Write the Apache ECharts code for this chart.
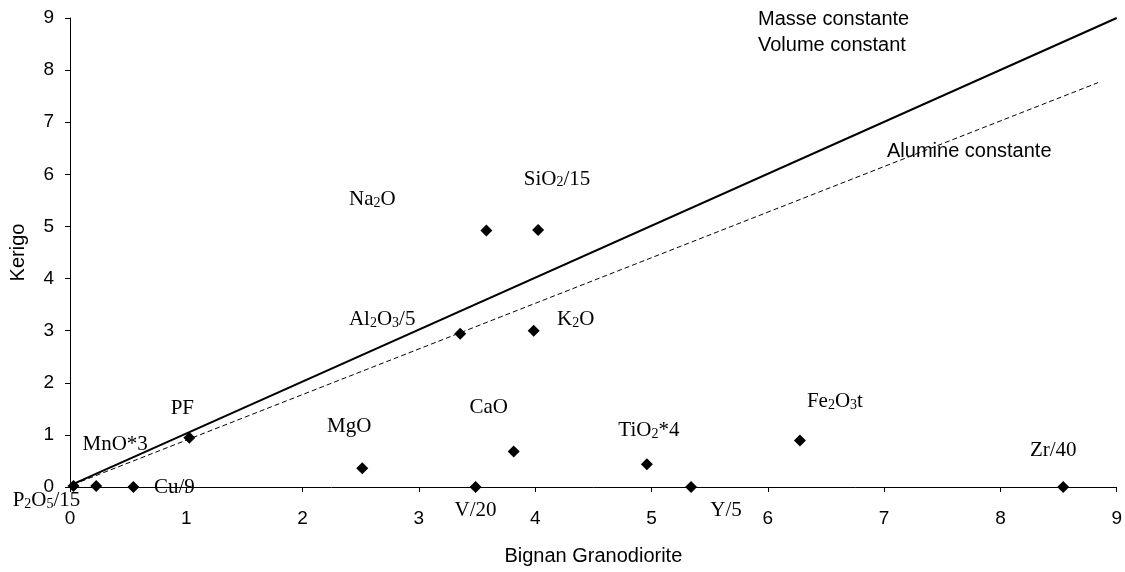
<!DOCTYPE html>
<html>
<head>
<meta charset="utf-8">
<script src="https://cdn.jsdelivr.net/npm/echarts@6/dist/echarts.min.js"></script>
<style>
  html, body { margin: 0; padding: 0; background: #fff; }
  #chart { width: 1125px; height: 572px; }
</style>
</head>
<body>
<div id="chart"></div>
<script>
// oxides, Bignan granodiorite (x) vs Kerigo (y)
var names = ['P{s|2}O{s|5}/15', 'MnO*3', 'Cu/9', 'PF', 'MgO', 'Al{s|2}O{s|3}/5', 'Na{s|2}O',
    'SiO{s|2}/15', 'K{s|2}O', 'V/20', 'CaO', 'TiO{s|2}*4', 'Y/5', 'Fe{s|2}O{s|3}t', 'Zr/40'];
var bignan = [0.03, 0.225, 0.545, 1.026, 2.513, 3.355, 3.58, 4.025, 3.987, 3.487, 3.815, 4.96, 5.34, 6.276, 8.54];
var kerigo = [0.02, 0.02, 0.0, 0.946, 0.36, 2.94, 4.92, 4.93, 3.0, 0.0, 0.68, 0.435, 0.0, 0.89, 0.0];

// reference lines
var masseLine = [[0.03, 0.06], [9, 9]];
var alumineLine = [[0.03, 0.05], [8.84, 7.76]];

var ticks = [0, 1, 2, 3, 4, 5, 6, 7, 8, 9];

// where each label sits relative to its point (px)
var labelOffsets = [[-27, 15], [19, -41], [41, 0], [-7, -29], [-13, -42], [-78, -14], [-114, -31],
    [19, -51], [42, -11], [0, 23], [-25, -44], [2, -34], [35, 23], [35, -39], [-10, -37]];

var chart = echarts.init(document.getElementById('chart'));

var points = bignan.map(function (x, i) {
    return {
        value: [x, kerigo[i]],
        label: {
            show: true,
            position: 'inside',
            offset: labelOffsets[i],
            formatter: names[i]
        }
    };
});

var sansFont = 'Liberation Sans';
var serifFont = 'Liberation Serif';

var axisCommon = {
    type: 'value',
    min: 0,
    max: 9,
    interval: 1,
    splitLine: { show: false },
    axisLine: { show: true, onZero: false, lineStyle: { color: '#000', width: 1 } },
    axisTick: { show: true, length: 5, lineStyle: { color: '#000' } },
    nameLocation: 'middle',
    nameTextStyle: { color: '#000', fontFamily: sansFont, fontSize: 20 }
};

var option = {
    backgroundColor: '#fff',
    animation: false,
    grid: { left: 70, right: 6, top: 18, bottom: 85 },
    xAxis: Object.assign({}, axisCommon, {
        name: 'Bignan Granodiorite',
        nameGap: 59,
        axisLabel: { color: '#000', fontFamily: sansFont, fontSize: 19, margin: 22,
            formatter: function (v) { return ticks.indexOf(v) >= 0 ? String(v) : ''; } }
    }),
    yAxis: Object.assign({}, axisCommon, {
        name: 'Kerigo',
        nameGap: 42,
        axisLabel: { color: '#000', fontFamily: sansFont, fontSize: 19, margin: 16 }
    }),
    graphic: [
        { type: 'text', left: 758, top: 9, style: { text: 'Masse constante', fill: '#000', font: '20px "Liberation Sans"' } },
        { type: 'text', left: 758, top: 35, style: { text: 'Volume constant', fill: '#000', font: '20px "Liberation Sans"' } },
        { type: 'text', left: 887, top: 141, style: { text: 'Alumine constante', fill: '#000', font: '20px "Liberation Sans"' } }
    ],
    series: [
        {
            name: 'Masse constante',
            type: 'line',
            data: masseLine,
            symbol: 'none',
            lineStyle: { color: '#000', width: 2 },
            z: 2
        },
        {
            name: 'Alumine constante',
            type: 'line',
            data: alumineLine,
            symbol: 'none',
            lineStyle: { color: '#000', width: 1, type: [5, 3] },
            z: 2
        },
        {
            name: 'Oxydes',
            type: 'scatter',
            data: points,
            symbol: 'diamond',
            symbolSize: 12,
            itemStyle: { color: '#000', opacity: 1 },
            label: {
                color: '#000',
                fontFamily: serifFont,
                fontSize: 21,
                lineHeight: 21,
                rich: {
                    s: { fontFamily: serifFont, fontSize: 14, lineHeight: 2, verticalAlign: 'bottom', color: '#000' }
                }
            },
            z: 3
        }
    ]
};

chart.setOption(option);
</script>
</body>
</html>
